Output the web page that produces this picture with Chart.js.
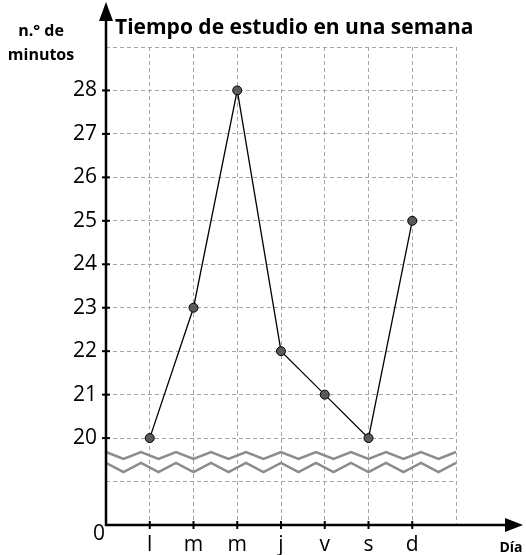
<!DOCTYPE html>
<html>
<head>
<meta charset="utf-8">
<script src="https://cdn.jsdelivr.net/npm/chart.js@4.4.1/dist/chart.umd.min.js"></script>
<style>
  html, body { margin: 0; padding: 0; background: #fff; }
  #wrap { width: 526px; height: 555px; }
</style>
</head>
<body>
<div id="wrap"><canvas id="chart" width="526" height="555"></canvas></div>
<script>
// days of the week and minutes studied
const days = ['l', 'm', 'm', 'j', 'v', 's', 'd'];
const minutes = [20, 23, 28, 22, 21, 20, 25];
// the axis starts at 0, drawn with a break below 20
const yLabelled = [20, 21, 22, 23, 24, 25, 26, 27, 28];
const yBottom = 18;   // position of the "0" on the broken axis
const yTop = 29;

const FONT = '"Open Sans", sans-serif';

// axes with arrows, tick marks, axis break and text labels
const decorations = {
  id: 'decorations',
  beforeDatasetsDraw(chart) {
    const { ctx, chartArea: a, scales: { y } } = chart;
    // zigzag break between 0 and 20
    const period = 35;
    const zig = (hi, lo) => {
      const yh = y.getPixelForValue(hi), yl = y.getPixelForValue(lo);
      ctx.beginPath();
      for (let i = 0; i <= 20; i++) {
        const px = a.left + i * period / 2;
        const py = i % 2 === 0 ? yh : yl;
        if (i === 0) ctx.moveTo(px, py); else ctx.lineTo(px, py);
      }
      ctx.stroke();
    };
    ctx.save();
    ctx.strokeStyle = '#8c8c8c';
    ctx.lineWidth = 2.5;
    ctx.lineJoin = 'miter';
    zig(19.68, 19.52);
    zig(19.43, 19.22);
    ctx.restore();
  },
  afterDraw(chart) {
    const { ctx, chartArea: a, scales: { x, y } } = chart;
    const x0 = a.left, y0 = a.bottom;
    ctx.save();
    ctx.strokeStyle = '#000';
    ctx.fillStyle = '#000';
    ctx.lineWidth = 2.5;
    // y axis
    ctx.beginPath();
    ctx.moveTo(x0, y0 + 1);
    ctx.lineTo(x0, 14);
    ctx.stroke();
    ctx.beginPath();
    ctx.moveTo(x0, 2);
    ctx.lineTo(x0 - 7, 21);
    ctx.lineTo(x0 + 7, 21);
    ctx.closePath();
    ctx.fill();
    // x axis
    ctx.beginPath();
    ctx.moveTo(x0 - 1, y0);
    ctx.lineTo(512, y0);
    ctx.stroke();
    ctx.beginPath();
    ctx.moveTo(523, y0);
    ctx.lineTo(505, y0 - 7);
    ctx.lineTo(505, y0 + 7);
    ctx.closePath();
    ctx.fill();
    // tick marks
    ctx.lineWidth = 2;
    yLabelled.forEach(v => {
      const py = y.getPixelForValue(v);
      ctx.beginPath();
      ctx.moveTo(x0 - 4, py);
      ctx.lineTo(x0 + 4, py);
      ctx.stroke();
    });
    days.forEach((d, i) => {
      const px = x.getPixelForValue(i + 1);
      ctx.beginPath();
      ctx.moveTo(px, y0 - 4);
      ctx.lineTo(px, y0 + 4);
      ctx.stroke();
    });
    // origin label
    ctx.font = '21px ' + FONT;
    ctx.textAlign = 'right';
    ctx.textBaseline = 'middle';
    ctx.fillText('0', x0 - 1, y0 + 9);
    // title and axis names
    ctx.textBaseline = 'alphabetic';
    ctx.textAlign = 'left';
    ctx.font = 'bold 21px ' + FONT;
    ctx.fillText('Tiempo de estudio en una semana', x0 + 9, 34);
    ctx.textAlign = 'center';
    ctx.font = 'bold 16px ' + FONT;
    ctx.fillText('n.° de', 41, 36);
    ctx.fillText('minutos', 41, 60);
    ctx.font = 'bold 14px ' + FONT;
    ctx.fillText('Día', 511, 552);
    ctx.restore();
  }
};

new Chart(document.getElementById('chart'), {
  type: 'line',
  data: {
    datasets: [{
      data: minutes.map((m, i) => ({ x: i + 1, y: m })),
      borderColor: '#000',
      borderWidth: 1.3,
      pointRadius: 4.5,
      pointBackgroundColor: '#5a5a5a',
      pointBorderColor: '#000',
      pointBorderWidth: 1,
      tension: 0
    }]
  },
  options: {
    responsive: false,
    animation: false,
    layout: { padding: { top: 47, right: 70, left: 0, bottom: 0 } },
    plugins: { legend: { display: false }, tooltip: { enabled: false } },
    scales: {
      x: {
        type: 'linear',
        min: 0,
        max: days.length + 1,
        afterFit: s => { s.height = 30; },
        ticks: {
          stepSize: 1,
          autoSkip: false,
          maxRotation: 0,
          padding: 7,
          color: '#000',
          font: { family: FONT, size: 21 },
          callback: v => days[v - 1] || ''
        },
        grid: { color: '#a6a6a6', lineWidth: 1, drawTicks: false },
        border: { display: false, dash: [4, 3] }
      },
      y: {
        min: yBottom,
        max: yTop,
        afterFit: s => { s.width = 106; },
        ticks: {
          stepSize: 1,
          autoSkip: false,
          padding: 9,
          color: '#000',
          font: { family: FONT, size: 21 },
          callback: v => yLabelled.includes(v) ? v : ''
        },
        grid: { color: '#a6a6a6', lineWidth: 1, drawTicks: false },
        border: { display: false, dash: [4, 3] }
      }
    }
  },
  plugins: [decorations]
});
</script>
</body>
</html>
